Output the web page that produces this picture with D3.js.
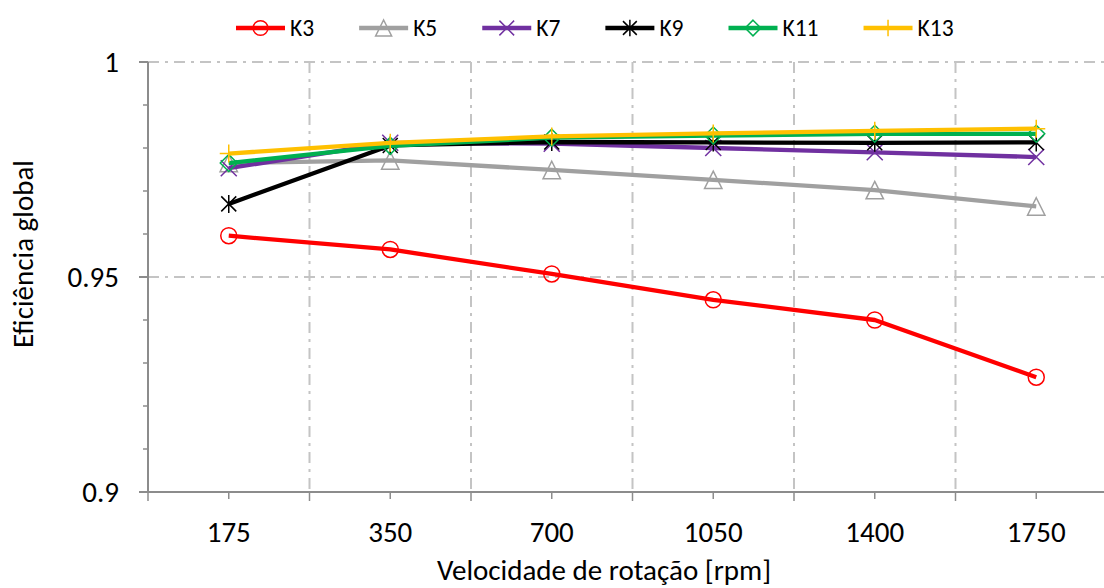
<!DOCTYPE html>
<html>
<head>
<meta charset="utf-8">
<script src="https://cdn.jsdelivr.net/npm/d3@7"></script>
<style>
  html, body { margin: 0; padding: 0; background: #fff; }
  svg { display: block; font-family: Carlito, Calibri, Lato, "Noto Sans", sans-serif; }
</style>
</head>
<body>
<svg id="chart" width="1104" height="588"></svg>
<script>
// Rotation speeds (rpm) on the category axis
const speeds = ["175", "350", "700", "1050", "1400", "1750"];

// Overall efficiency per configuration
const seriesNames = ["K3", "K5", "K7", "K9", "K11", "K13"];
const k3  = [0.9596, 0.9564, 0.9507, 0.9447, 0.9400, 0.9267];
const k5  = [0.9765, 0.9771, 0.9749, 0.9726, 0.9702, 0.9664];
const k7  = [0.9753, 0.9812, 0.9810, 0.9800, 0.9790, 0.9779];
const k9  = [0.9670, 0.9806, 0.9814, 0.9813, 0.9812, 0.9813];
const k11 = [0.9765, 0.9805, 0.9824, 0.9829, 0.9833, 0.9833];
const k13 = [0.9787, 0.9812, 0.9827, 0.9834, 0.9840, 0.9845];

const yTicks = [0.9, 0.95, 1];
const yTickLabels = ["0.9", "0.95", "1"];
const xTitle = "Velocidade de rotação [rpm]";
const yTitle = "Eficiência global";

const seriesValues = [k3, k5, k7, k9, k11, k13];
const seriesColors = ["#FF0000", "#A0A0A0", "#7030A0", "#000000", "#00B050", "#FFC000"];
const seriesMarkers = ["circle", "triangle", "x", "star", "diamond", "plus"];

const svg = d3.select("#chart");
const plot = { left: 148, right: 1117, top: 62, bottom: 492 };

const x = d3.scaleBand().domain(speeds).range([plot.left, plot.right]).padding(0);
const y = d3.scaleLinear().domain([0.9, 1]).range([plot.bottom, plot.top]);

const gridColor = "#C4C4C4";
const axisColor = "#8C8C8C";
const dashDot = "11,6,3,6";

// Grid: dash-dot lines at category boundaries and at major y values
const boundaries = speeds.map(s => x(s)).slice(1).concat([plot.right]);
svg.append("g").selectAll("line").data(boundaries).join("line")
  .attr("x1", d => d).attr("x2", d => d)
  .attr("y1", plot.top).attr("y2", plot.bottom)
  .attr("stroke", gridColor).attr("stroke-width", 2).attr("stroke-dasharray", dashDot);

svg.append("g").selectAll("line").data(yTicks.filter(v => v > 0.9)).join("line")
  .attr("x1", plot.left).attr("x2", plot.right)
  .attr("y1", d => y(d)).attr("y2", d => y(d))
  .attr("stroke", gridColor).attr("stroke-width", 2).attr("stroke-dasharray", dashDot);

// Y axis with major and minor ticks
const yAxis = svg.append("g");
yAxis.append("line")
  .attr("x1", plot.left).attr("x2", plot.left)
  .attr("y1", plot.top).attr("y2", plot.bottom)
  .attr("stroke", axisColor).attr("stroke-width", 2);
const minor = d3.range(0, 11).map(i => 0.9 + i * 0.01).filter(v => !yTicks.some(t => Math.abs(t - v) < 1e-9));
yAxis.selectAll("line.minor").data(minor).join("line").attr("class", "minor")
  .attr("x1", plot.left - 5).attr("x2", plot.left)
  .attr("y1", d => y(d)).attr("y2", d => y(d))
  .attr("stroke", axisColor).attr("stroke-width", 1.5);
yAxis.selectAll("line.major").data(yTicks).join("line").attr("class", "major")
  .attr("x1", plot.left - 9).attr("x2", plot.left)
  .attr("y1", d => y(d)).attr("y2", d => y(d))
  .attr("stroke", axisColor).attr("stroke-width", 2);
yAxis.selectAll("text").data(yTicks).join("text")
  .attr("x", 119).attr("y", d => y(d))
  .attr("dy", "0.33em")
  .attr("text-anchor", "end")
  .attr("font-size", 29).attr("fill", "#000")
  .text((d, i) => yTickLabels[i]);

// X axis: ticks at category boundaries and short ticks at centers
const xAxis = svg.append("g");
xAxis.append("line")
  .attr("x1", plot.left).attr("x2", plot.right)
  .attr("y1", plot.bottom).attr("y2", plot.bottom)
  .attr("stroke", axisColor).attr("stroke-width", 2);
xAxis.selectAll("line.b").data([plot.left].concat(boundaries)).join("line").attr("class", "b")
  .attr("x1", d => d).attr("x2", d => d)
  .attr("y1", plot.bottom).attr("y2", plot.bottom + 9)
  .attr("stroke", axisColor).attr("stroke-width", 1.5);
xAxis.selectAll("line.c").data(speeds).join("line").attr("class", "c")
  .attr("x1", d => x(d) + x.bandwidth() / 2).attr("x2", d => x(d) + x.bandwidth() / 2)
  .attr("y1", plot.bottom).attr("y2", plot.bottom + 7)
  .attr("stroke", axisColor).attr("stroke-width", 1.5);
xAxis.selectAll("text").data(speeds).join("text")
  .attr("x", d => x(d) + x.bandwidth() / 2).attr("y", 542)
  .attr("text-anchor", "middle")
  .attr("font-size", 29).attr("fill", "#000")
  .text(d => d);

// Axis titles
svg.append("text")
  .attr("x", 604).attr("y", 580)
  .attr("text-anchor", "middle").attr("font-size", 29).attr("fill", "#000")
  .text(xTitle);
svg.append("text")
  .attr("transform", "translate(33,254) rotate(-90)")
  .attr("text-anchor", "middle").attr("font-size", 29).attr("fill", "#000")
  .text(yTitle);

// Marker shapes centered at the origin
function markerPath(type, s) {
  switch (type) {
    case "circle":
      return `M${-s},0A${s},${s} 0 1,0 ${s},0A${s},${s} 0 1,0 ${-s},0Z`;
    case "triangle":
      return `M0,${-s}L${s},${s}L${-s},${s}Z`;
    case "x":
      return `M${-s},${-s}L${s},${s}M${-s},${s}L${s},${-s}`;
    case "star":
      return `M${-s},${-s}L${s},${s}M${-s},${s}L${s},${-s}M0,${-s * 1.2}L0,${s * 1.2}`;
    case "diamond":
      return `M0,${-s}L${s},0L0,${s}L${-s},0Z`;
    case "plus":
      return `M0,${-s}L0,${s}M${-s},0L${s},0`;
  }
}
const markerSize = { circle: 8, triangle: 8.7, x: 8, star: 7.5, diamond: 8.5, plus: 9 };

const line = d3.line()
  .x((d, i) => x(speeds[i]) + x.bandwidth() / 2)
  .y(d => y(d));

// Series: line first, then markers, one series after another
seriesValues.forEach((vals, si) => {
  const g = svg.append("g");
  g.append("path")
    .attr("d", line(vals))
    .attr("fill", "none")
    .attr("stroke", seriesColors[si])
    .attr("stroke-width", 4.3)
    .attr("stroke-linejoin", "round");
  const mk = seriesMarkers[si];
  g.selectAll("path.m").data(vals).join("path").attr("class", "m")
    .attr("transform", (d, i) => `translate(${x(speeds[i]) + x.bandwidth() / 2},${y(d)})`)
    .attr("d", markerPath(mk, markerSize[mk]))
    .attr("fill", "none")
    .attr("stroke", seriesColors[si])
    .attr("stroke-width", 1.5);
});

// Legend across the top
const legend = svg.append("g");
let lx = 236;
const ly = 28;
seriesNames.forEach((name, si) => {
  const item = legend.append("g");
  item.append("line")
    .attr("x1", lx).attr("x2", lx + 49)
    .attr("y1", ly).attr("y2", ly)
    .attr("stroke", seriesColors[si]).attr("stroke-width", 4.3);
  const mk = seriesMarkers[si];
  item.append("path")
    .attr("transform", `translate(${lx + 24.5},${ly})`)
    .attr("d", markerPath(mk, markerSize[mk] * 0.92))
    .attr("fill", "none")
    .attr("stroke", seriesColors[si]).attr("stroke-width", 1.5);
  const t = item.append("text")
    .attr("x", lx + 54).attr("y", ly + 8)
    .attr("font-size", 23.5).attr("fill", "#000")
    .text(name);
  lx = lx + 54 + t.node().getComputedTextLength() + 45;
});
</script>
</body>
</html>
